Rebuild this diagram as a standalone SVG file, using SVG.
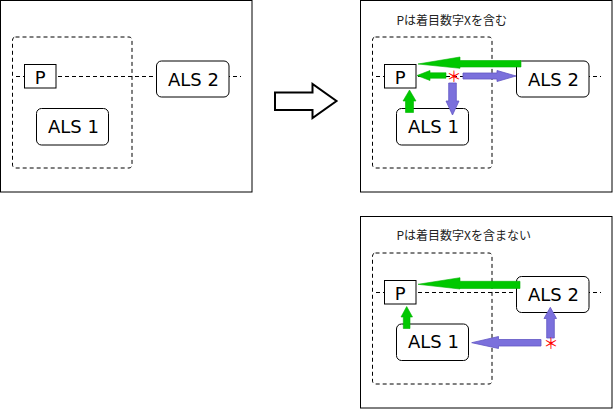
<svg xmlns="http://www.w3.org/2000/svg" width="613" height="409" viewBox="0 0 613 409">
<style>
.frame{fill:#fff;stroke:#000;stroke-width:1}
.region{fill:none;stroke:#000;stroke-width:1;stroke-dasharray:4,3}
.axis{stroke:#000;stroke-width:1;stroke-dasharray:4,3;fill:none}
.pbox{fill:#fff;stroke:#000;stroke-width:1}
.als{fill:#fff;stroke:#000;stroke-width:1}
.lbl{font-family:"DejaVu Sans",Verdana,sans-serif;font-size:18px;fill:#000;text-anchor:middle}
.title{font-family:"Noto Sans CJK JP","Noto Sans",sans-serif;font-size:12px;fill:#222}
.g{fill:#00c800;stroke:#00b400;stroke-width:0.6}
.b{fill:#7b70dc;stroke:#6257c4;stroke-width:0.8}
.star{font-family:"Noto Sans CJK JP",sans-serif;font-size:15px;fill:#ff0000;text-anchor:middle}
.hollow{fill:#fff;stroke:#000;stroke-width:2;stroke-linejoin:miter}
</style>

<!-- Panel 1 -->
<g id="panel1">
  <rect class="frame" x="0.5" y="0.5" width="251.5" height="191.5"/>
  <rect class="region" x="12.5" y="37" width="119.5" height="131" rx="3"/>
  <line class="axis" x1="16" y1="76.5" x2="241" y2="76.5"/>
</g>
<g id="p1-P"><rect class="pbox" x="24.5" y="64.5" width="31.5" height="23.5"/><text class="lbl" x="40.3" y="83.5">P</text></g>
<g id="p1-ALS2"><rect class="als" x="156.5" y="61" width="72.5" height="36" rx="5"/><text class="lbl" x="193.5" y="85.5">ALS 2</text></g>
<g id="p1-ALS1"><rect class="als" x="36.5" y="108.5" width="72" height="36.5" rx="5"/><text class="lbl" x="73.5" y="132.5">ALS 1</text></g>

<!-- Transition arrow -->
<g id="transition">
  <polygon class="hollow" points="275,92.5 312.5,92.5 312.5,84 336.5,101 312.5,118 312.5,110 275,110"/>
</g>

<!-- Panel 2 -->
<g id="panel2">
  <rect class="frame" x="360.5" y="0.5" width="251.5" height="191.5"/>
  <text class="title" x="396.5" y="25">Pは着目数字Xを含む</text>
  <rect class="region" x="372.5" y="37" width="119.5" height="131" rx="3"/>
  <line class="axis" x1="376" y1="76.5" x2="601" y2="76.5"/>
</g>
<g id="p2-P"><rect class="pbox" x="384.5" y="64.5" width="31.5" height="23.5"/><text class="lbl" x="400.3" y="83.5">P</text></g>
<g id="p2-ALS2"><rect class="als" x="516.5" y="61" width="72.5" height="36" rx="5"/><text class="lbl" x="553.5" y="85.5">ALS 2</text></g>
<g id="p2-ALS1"><rect class="als" x="396.5" y="108.5" width="72" height="36.5" rx="5"/><text class="lbl" x="433.5" y="132.5">ALS 1</text></g>

<!-- Panel 3 -->
<g id="panel3">
  <rect class="frame" x="360.5" y="216.5" width="251.5" height="191.5"/>
  <text class="title" x="396.5" y="240">Pは着目数字Xを含まない</text>
  <rect class="region" x="372.5" y="253" width="119.5" height="131" rx="3"/>
  <line class="axis" x1="376" y1="292.5" x2="601" y2="292.5"/>
</g>
<g id="p3-P"><rect class="pbox" x="384.5" y="280.5" width="31.5" height="23.5"/><text class="lbl" x="400.3" y="299.5">P</text></g>
<g id="p3-ALS2"><rect class="als" x="516.5" y="276.5" width="72.5" height="36" rx="5"/><text class="lbl" x="553.5" y="301">ALS 2</text></g>
<g id="p3-ALS1"><rect class="als" x="396.5" y="324" width="72" height="36.5" rx="5"/><text class="lbl" x="433.5" y="348">ALS 1</text></g>

<!-- Connectors -->
<g id="connectors">
  <!-- panel 2 -->
  <polygon class="g" points="418,64 460,57 460,60.5 521,60.5 521,67 460,67 460,68.3"/>
  <polygon class="g" points="417,75.5 430,70.5 430,72.8 446,72.8 446,78.2 430,78.2 430,80.5"/>
  <polygon class="b" points="516,76 497,70.5 497,73 463,73 463,79 497,79 497,81.5"/>
  <polygon class="b" points="452.5,115 446,101 448.7,101 448.7,83 456.3,83 456.3,101 459,101"/>
  <polygon class="g" points="409.5,90 416,101 413.5,101 413.5,112.5 405.5,112.5 405.5,101 403,101"/>
  <!-- panel 3 -->
  <polygon class="g" points="418,284.3 460,277.7 460,281.3 520,281.3 520,288.5 460,288.5 460,289"/>
  <polygon class="g" points="406.7,306.5 412.5,317 410,317 410,328.5 403.3,328.5 403.3,317 401,317"/>
  <polygon class="b" points="471.7,342.7 498.5,336.5 498.5,339.5 541,339.5 541,346 498.5,346 498.5,348.5"/>
  <polygon class="b" points="550.3,307.3 556.5,318.5 554.3,318.5 554.3,338 546.7,338 546.7,318.5 544,318.5"/>
</g>
<g id="markers">
  <text class="star" x="454" y="81.5">＊</text>
  <text class="star" x="551" y="349">＊</text>
</g>
</svg>
